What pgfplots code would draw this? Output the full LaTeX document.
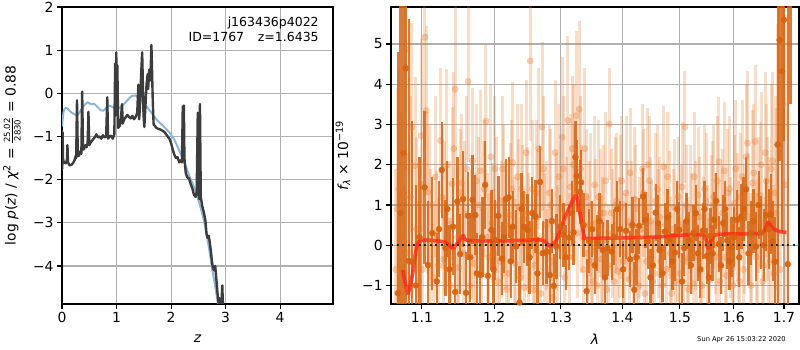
\documentclass[border=0pt]{standalone}
\usepackage{pgfplots}
\pgfplotsset{compat=1.18}
\usepackage{pgfplotstable}
\usepackage{fontspec}
\setmainfont{DejaVu Sans}
\definecolor{gridc}{RGB}{176,176,176}
\definecolor{pzc}{RGB}{60,60,60}
\definecolor{bluec}{RGB}{140,182,215}
\definecolor{lor}{RGB}{228,118,40}
\definecolor{dor}{RGB}{214,100,18}
\definecolor{redc}{RGB}{255,40,20}

\pgfplotstableread{
x y e
1.066 -0.6 2.5
1.070 1.4 3.0
1.074 0.5 2.8
1.079 4.86 3.0
1.083 -0.2 2.5
1.087 2.93 2.6
1.091 1.98 2.2
1.095 -0.9 2.0
1.099 2.72 2.4
1.104 5.17 2.8
1.108 1.32 2.0
1.112 0.1 1.8
1.116 -0.8 1.9
1.120 0.25 1.6
1.125 2.6 1.8
1.129 -0.35 1.6
1.133 1.98 2.4
1.137 0.6 1.5
1.141 1.53 1.9
1.145 3.88 2.2
1.150 -0.55 1.6
1.154 1.55 1.7
1.158 0.78 1.8
1.163 4.07 2.0
1.167 0.3 1.6
1.171 -0.45 1.5
1.175 1.6 1.9
1.180 1.85 2.0
1.184 0.9 1.7
1.188 3.08 1.9
1.192 -0.3 1.6
1.197 0.55 1.5
1.201 1.9 1.8
1.205 -0.9 1.6
1.210 0.4 1.7
1.214 1.1 1.9
1.218 -1.1 1.5
1.223 0.75 1.8
1.227 2.05 2.0
1.231 -0.45 1.6
1.236 0.95 1.7
1.240 1.4 2.1
1.244 -1.05 1.5
1.249 0.65 1.8
1.253 4.58 2.0
1.258 -1.1 1.7
1.262 1.3 1.8
1.266 2.4 2.0
1.271 2.94 2.1
1.275 0.2 1.6
1.280 -0.6 1.5
1.284 1.0 1.9
1.288 -1.3 1.6
1.293 0.6 1.7
1.297 1.7 1.8
1.302 2.68 2.0
1.306 -0.8 1.6
1.311 3.1 2.1
1.315 1.45 1.8
1.320 2.0 2.0
1.324 3.22 2.1
1.329 3.38 2.2
1.333 0.9 1.6
1.338 2.4 2.0
1.342 -0.2 1.5
1.347 1.0 1.8
1.351 -0.9 1.5
1.356 0.55 1.6
1.360 1.2 1.9
1.365 -0.35 1.6
1.369 0.8 1.7
1.374 -1.1 1.5
1.378 3.01 1.4
1.383 0.3 1.6
1.388 1.0 1.7
1.392 -0.65 1.5
1.397 0.95 1.8
1.401 -0.4 1.5
1.406 1.3 1.9
1.411 -0.85 1.4
1.415 0.5 1.6
1.420 1.15 1.8
1.424 -0.3 1.5
1.429 0.2 1.5
1.434 1.9 1.6
1.438 -1.2 1.5
1.443 2.0 1.4
1.448 0.6 1.6
1.452 -0.9 1.5
1.457 1.1 1.7
1.462 0.3 1.6
1.466 -0.4 1.4
1.471 1.95 1.5
1.476 -0.6 1.5
1.481 0.75 1.6
1.485 -1.2 1.4
1.490 0.95 1.7
1.495 0.1 1.5
1.500 -0.7 1.4
1.504 1.45 1.6
1.509 2.94 1.4
1.514 -0.3 1.5
1.519 0.9 1.6
1.524 -0.95 1.5
1.528 0.5 1.6
1.533 1.25 1.7
1.538 -0.6 1.5
1.543 0.2 1.5
1.548 1.1 1.7
1.553 -0.85 1.5
1.558 0.65 1.6
1.562 1.2 1.8
1.567 -0.3 1.5
1.572 2.08 1.6
1.577 0.4 1.6
1.582 1.85 1.7
1.587 -0.75 1.5
1.592 1.4 1.8
1.597 -0.45 1.5
1.602 1.05 1.7
1.607 0.7 1.6
1.612 -0.9 1.5
1.617 1.7 1.9
1.622 0.4 1.6
1.627 2.54 1.8
1.632 -0.2 1.5
1.637 1.55 1.8
1.642 2.58 1.9
1.647 0.05 1.6
1.652 1.25 1.8
1.657 -0.9 1.6
1.662 2.3 2.0
1.667 0.9 1.8
1.672 -0.4 1.7
1.677 2.1 2.2
1.682 1.3 2.4
1.687 2.5 3.0
1.692 -0.6 3.0
1.697 3.5 3.5
1.702 1.5 4.0
}\lighttab

\pgfplotstableread{
x y e
1.068 0.9 3.0
1.077 -1.1 2.6
1.085 1.2 2.5
1.093 0.4 2.3
1.101 -0.6 2.2
1.106 3.35 2.1
1.110 1.0 2.0
1.118 1.7 2.0
1.122 -0.5 1.7
1.127 1.2 1.8
1.131 0.7 1.9
1.139 -1.0 1.6
1.143 2.4 1.9
1.148 0.2 1.7
1.152 1.3 1.6
1.156 -0.2 1.7
1.161 1.9 1.8
1.165 -1.0 1.6
1.169 2.1 1.8
1.173 0.1 1.7
1.178 1.0 1.7
1.182 -0.7 1.6
1.186 1.4 1.7
1.190 0.2 1.6
1.195 2.2 1.8
1.199 -0.2 1.6
1.203 1.0 1.7
1.208 -0.4 1.6
1.212 1.9 1.8
1.216 0.5 1.6
1.221 -0.7 1.6
1.225 1.4 1.7
1.229 0.1 1.6
1.234 1.7 1.8
1.238 -0.8 1.5
1.242 0.8 1.7
1.247 2.3 1.8
1.251 0.2 1.6
1.256 1.4 1.7
1.260 -0.5 1.6
1.264 0.7 1.7
1.269 -1.2 1.5
1.273 1.9 1.8
1.278 0.5 1.6
1.282 1.3 1.7
1.286 -0.4 1.6
1.291 2.3 1.8
1.295 -0.1 1.6
1.300 0.9 1.7
1.304 1.9 1.8
1.309 0.6 1.6
1.313 -0.3 1.6
1.318 2.4 1.8
1.322 1.3 1.7
1.327 0.3 1.6
1.331 1.9 1.8
1.336 -0.6 1.5
1.340 1.2 1.7
1.345 0.5 1.6
1.349 -0.4 1.5
1.354 1.5 1.7
1.358 -1.0 1.5
1.363 0.8 1.6
1.367 0.1 1.6
1.372 1.6 1.7
1.376 -0.5 1.5
1.381 0.8 1.6
1.386 -0.9 1.5
1.390 1.1 1.7
1.395 0.2 1.5
1.399 1.6 1.6
1.404 -0.2 1.5
1.409 0.6 1.5
1.413 1.8 1.6
1.418 -0.7 1.5
1.422 0.9 1.6
1.427 -1.0 1.4
1.432 0.4 1.5
1.436 1.3 1.6
1.441 -0.4 1.4
1.446 1.6 1.6
1.450 0.1 1.5
1.455 -0.7 1.4
1.460 1.4 1.6
1.464 0.7 1.5
1.469 -1.0 1.4
1.474 0.5 1.5
1.478 1.7 1.6
1.483 -0.2 1.4
1.488 0.4 1.5
1.492 -0.9 1.4
1.497 1.2 1.5
1.502 0.5 1.5
1.507 -0.4 1.4
1.511 1.0 1.5
1.516 -1.1 1.4
1.521 0.3 1.5
1.526 1.7 1.6
1.531 -0.3 1.4
1.535 0.7 1.5
1.540 -1.0 1.4
1.545 1.4 1.6
1.550 0.0 1.5
1.555 -0.6 1.4
1.560 1.0 1.6
1.565 0.3 1.5
1.569 1.6 1.6
1.574 -0.9 1.5
1.579 0.8 1.6
1.584 -0.3 1.5
1.589 1.3 1.6
1.594 0.2 1.5
1.599 -1.0 1.5
1.604 1.9 1.7
1.609 0.1 1.5
1.614 1.2 1.6
1.619 -0.6 1.5
1.624 2.2 1.8
1.629 0.7 1.6
1.634 -1.0 1.5
1.639 1.8 1.7
1.644 -0.3 1.6
1.649 1.0 1.7
1.654 2.0 1.8
1.659 -0.5 1.7
1.664 1.6 1.9
1.669 0.3 1.9
1.674 1.9 2.1
1.679 -0.7 2.2
1.684 0.8 2.6
}\lighttabb

\pgfplotstableread{
x y e
1.0687 -1.19 6
1.0720 0.8 7
1.0760 2.29 6
1.0790 4.40 8
1.0830 -0.39 6
1.0870 -0.41 3.5
1.0920 -1.0 2.5
1.0970 0.2 2.0
1.1036 1.44 1.9
1.1080 -0.49 1.6
1.1140 0.3 1.4
1.1200 -0.9 1.2
1.1230 0.4 1.2
1.1267 1.87 1.2
1.1317 -0.07 1.2
1.1340 0.9 1.2
1.1370 -0.6 1.1
1.1420 0.46 1.2
1.1450 -1.16 1.1
1.1480 1.09 1.1
1.1520 -0.22 1.0
1.1560 1.15 1.2
1.1600 -1.18 1.0
1.1630 0.73 1.1
1.1660 -0.3 1.1
1.1690 1.13 1.1
1.1730 0.75 1.0
1.1750 -0.70 1.0
1.1800 -0.74 1.0
1.1830 0.2 1.0
1.1870 1.50 1.1
1.1910 -0.76 0.9
1.1960 0.38 1.0
1.1990 -0.6 1.0
1.2010 0.13 1.0
1.2060 0.73 1.0
1.2110 -0.33 0.9
1.2140 0.2 0.9
1.2170 1.15 1.0
1.2210 1.19 1.0
1.2240 -0.4 0.9
1.2270 0.46 0.9
1.2320 -0.03 0.9
1.2370 -1.42 0.9
1.2400 0.9 0.9
1.2440 0.46 0.9
1.2490 0.38 0.9
1.2520 -0.3 0.9
1.2560 0.80 0.9
1.2610 0.71 0.9
1.2640 -0.7 0.9
1.2680 1.57 0.9
1.2720 -0.20 0.8
1.2780 -0.16 0.8
1.2830 -0.74 0.8
1.2860 0.6 0.8
1.2890 -1.01 0.8
1.2930 -0.03 0.8
1.2990 0.46 0.8
1.3040 0.26 0.8
1.3080 -0.3 0.8
1.3130 0.19 0.8
1.3170 0.8 0.8
1.3200 0.32 0.8
1.3230 2.19 0.9
1.3250 1.72 0.9
1.3300 1.33 0.8
1.3320 1.56 0.8
1.3360 0.5 0.8
1.3410 -1.14 0.8
1.3450 0.1 0.8
1.3500 0.40 0.7
1.3540 -0.5 0.7
1.3580 0.05 0.7
1.3620 0.6 0.7
1.3670 -0.12 0.7
1.3710 -0.8 0.7
1.3750 -0.07 0.7
1.3820 -0.16 0.7
1.3860 0.2 0.7
1.3910 0.90 0.7
1.3960 0.40 0.7
1.4010 -0.6 0.7
1.4060 0.36 0.7
1.4130 -0.35 0.7
1.4170 0.5 0.7
1.4200 -1.11 0.7
1.4240 -0.3 0.7
1.4280 0.48 0.7
1.4350 1.21 0.7
1.4390 0.63 0.7
1.4430 0.1 0.7
1.4480 -0.80 0.7
1.4520 -0.5 0.7
1.4570 0.81 0.7
1.4610 0.55 0.7
1.4640 -0.12 0.7
1.4690 -0.7 0.7
1.4730 0.34 0.7
1.4780 0.7 0.7
1.4820 0.13 0.7
1.4870 -0.4 0.7
1.4910 -0.18 0.7
1.4950 0.9 0.7
1.4990 0.38 0.7
1.5040 -0.9 0.7
1.5080 -0.07 0.7
1.5120 0.6 0.7
1.5160 0.12 0.7
1.5200 -0.5 0.7
1.5250 0.30 0.7
1.5290 0.8 0.7
1.5330 -0.20 0.7
1.5370 -0.6 0.7
1.5420 0.36 0.7
1.5450 0.9 0.7
1.5490 -0.27 0.7
1.5530 -0.8 0.7
1.5560 0.23 0.7
1.5600 -0.2 0.7
1.5630 0.63 0.7
1.5670 1.1 0.7
1.5720 0.03 0.7
1.5760 -0.5 0.7
1.5800 0.55 0.7
1.5840 0.9 0.7
1.5880 0.12 0.7
1.5920 -0.4 0.7
1.5960 -0.05 0.75
1.6010 0.2 0.75
1.6070 0.63 0.75
1.6110 -0.3 0.75
1.6150 0.71 0.8
1.6190 0.9 0.8
1.6240 1.39 0.8
1.6290 -0.2 0.8
1.6340 0.30 0.8
1.6390 0.6 0.8
1.6440 -0.03 0.85
1.6490 1.0 0.85
1.6540 0.32 0.9
1.6590 0.0 0.9
1.6640 0.75 0.9
1.6690 0.4 1.0
1.6730 0.77 1.0
1.6770 0.1 1.0
1.6810 -0.41 1.1
1.6870 2.5 4.0
1.6910 5.10 3.0
1.6960 4.32 4.0
1.7000 5.6 3.0
1.7077 -0.47 6.5
1.7130 6.0 2.5
}\darktab

\pgfplotsset{
  myax/.style={
    scale only axis,
    anchor=south west,
    height=297pt,
    grid=major,
    major grid style={color=gridc, line width=1.1pt},
    axis line style={line width=1.1pt},
    tick align=outside,
    tick pos=left,
    major tick length=4.9pt,
    every tick/.style={black, line width=1.1pt},
    ticklabel style={font=\fontsize{13.9}{16}\selectfont},
    /pgf/number format/assume math mode=true,
    every axis x label/.style={at={(axis description cs:0.5,-0.118)}, anchor=center, font=\fontsize{13.9}{16}\selectfont},
  },
  lightpts/.style={only marks, lor, mark=*, mark size=3.2pt, mark options={fill=lor, draw=lor, opacity=0.3},
  error bars/.cd, y dir=both, y explicit, error mark=none,
  error bar style={line width=3pt, color=lor, opacity=0.25}},
}

\begin{document}
\begin{tikzpicture}
\useasboundingbox (0,0) rectangle (800pt,350pt);

% ---------- left panel ----------
\begin{axis}[myax,
  at={(62pt,46pt)}, width=271pt,
  xmin=0, xmax=4.97, ymin=-4.88, ymax=2,
  xtick={0,1,2,3,4},
  ytick={-4,-3,-2,-1,0,1,2},
  yticklabels={−4,−3,−2,−1,0,1,2},
  xlabel={\itshape z},
  ylabel={log {\itshape p}({\itshape z}) / {\itshape χ}\textsuperscript{2} = $\frac{\mbox{\fontsize{8.5}{9}\selectfont 25.02}}{\mbox{\fontsize{8.5}{9}\selectfont 2830}}$ = 0.88},
  every axis y label/.style={at={(axis description cs:-0.1845,0.5)}, rotate=90, anchor=center, font=\fontsize{13.9}{16}\selectfont},
]
\addplot[bluec, line width=2pt, smooth] coordinates {
(0.0,-0.77)(0.03,-0.42)(0.07,-0.34)(0.1,-0.35)(0.15,-0.42)(0.22,-0.48)(0.29,-0.5)(0.35,-0.38)(0.42,-0.26)(0.47,-0.21)(0.53,-0.25)(0.58,-0.24)(0.64,-0.3)(0.7,-0.38)(0.76,-0.4)(0.82,-0.32)(0.88,-0.29)(0.94,-0.33)(1.0,-0.37)(1.06,-0.33)(1.12,-0.27)(1.2,-0.16)(1.28,-0.06)(1.34,-0.05)(1.4,-0.1)(1.48,-0.2)(1.55,-0.3)(1.64,-0.45)(1.73,-0.6)(1.85,-0.75)(1.95,-0.88)(2.05,-1.05)(2.16,-1.35)(2.25,-1.62)(2.34,-1.93)(2.43,-2.2)(2.52,-2.55)(2.59,-2.88)(2.65,-3.25)(2.71,-3.7)(2.77,-4.18)(2.82,-4.55)(2.86,-4.88)(2.9,-5.2)};
\addplot[pzc, line width=2.4pt, line join=round] coordinates {
(0.00,-0.85)(0.005,-1.75)(0.01,-0.9)(0.02,-1.55)(0.04,-1.6)(0.07,-1.62)(0.09,-1.55)(0.10,-1.2)(0.11,-1.6)(0.14,-1.67)(0.18,-1.65)(0.21,-1.6)(0.23,-1.55)(0.25,-1.45)(0.26,-1.5)(0.275,-0.16)(0.29,-1.45)(0.31,-1.45)(0.33,-1.35)(0.355,-1.4)(0.37,0.04)(0.385,-1.3)(0.40,-1.3)(0.43,-1.2)(0.45,-1.25)(0.47,-1.15)(0.485,-0.43)(0.50,-1.2)(0.52,-1.15)(0.55,-1.1)(0.58,-1.05)(0.61,-1.0)(0.63,-0.95)(0.66,-1.02)(0.69,-1.0)(0.72,-1.05)(0.75,-0.97)(0.78,-1.02)(0.81,-1.0)(0.83,-0.09)(0.845,-1.05)(0.87,-1.0)(0.90,-0.98)(0.93,-1.05)(0.96,-0.95)(0.975,0.69)(0.985,-0.5)(0.995,0.95)(1.005,-0.5)(1.015,0.65)(1.03,-0.8)(1.06,-0.75)(1.08,-0.6)(1.10,-0.25)(1.115,-0.7)(1.14,-0.6)(1.17,-0.55)(1.20,-0.5)(1.23,-0.55)(1.26,-0.58)(1.29,-0.52)(1.32,-0.6)(1.35,-0.55)(1.38,-0.45)(1.40,0.2)(1.415,-0.6)(1.43,-0.3)(1.45,0.4)(1.47,0.95)(1.48,0.4)(1.495,-0.5)(1.51,-0.78)(1.53,-0.3)(1.55,0.2)(1.57,0.44)(1.58,0.1)(1.60,0.55)(1.62,0.3)(1.64,1.12)(1.65,0.6)(1.665,-0.2)(1.68,-0.72)(1.70,-0.75)(1.73,-0.8)(1.76,-0.82)(1.79,-0.83)(1.82,-0.85)(1.85,-0.87)(1.88,-0.9)(1.91,-0.95)(1.94,-1.0)(1.97,-1.05)(2.00,-1.15)(2.03,-1.3)(2.06,-1.42)(2.09,-1.5)(2.12,-1.48)(2.15,-1.6)(2.18,-1.55)(2.20,-1.6)(2.215,-0.3)(2.225,-1.2)(2.235,-0.28)(2.245,-1.5)(2.27,-1.85)(2.30,-1.95)(2.33,-1.97)(2.36,-2.1)(2.39,-2.2)(2.42,-2.35)(2.45,-2.4)(2.47,-2.3)(2.49,-0.45)(2.50,-2.3)(2.52,-2.45)(2.53,-0.25)(2.545,-2.4)(2.57,-2.6)(2.60,-2.75)(2.63,-2.95)(2.65,-3.25)(2.67,-3.35)(2.69,-3.3)(2.71,-3.45)(2.73,-3.65)(2.75,-3.9)(2.77,-4.05)(2.79,-4.1)(2.81,-4.0)(2.83,-4.3)(2.85,-4.6)(2.87,-4.85)(2.89,-4.75)(2.91,-5.2)(2.94,-4.45)(2.96,-5.3)(3.0,-6)};
\node[anchor=north east, align=right, font=\fontsize{12.5}{15.5}\selectfont, inner sep=0pt] at (rel axis cs:0.948,0.967) {j163436p4022\\ID=1767\hspace{1.1em}z=1.6435};
\end{axis}

% ---------- right panel ----------
\begin{axis}[myax,
  at={(391pt,46pt)}, width=408pt,
  xmode=log,
  xmin=1.06, xmax=1.731, ymin=-1.46, ymax=5.92,
  xtick={1.1,1.2,1.3,1.4,1.5,1.6,1.7},
  xticklabels={1.1,1.2,1.3,1.4,1.5,1.6,1.7},
  xminorticks=false,
  ytick={-1,0,1,2,3,4,5},
  yticklabels={−1,0,1,2,3,4,5},
  xlabel={\itshape λ},
  ylabel={{\itshape f}\textsubscript{\itshape λ} × 10\textsuperscript{−19}},
  every axis y label/.style={at={(axis description cs:-0.1176,0.5)}, rotate=90, anchor=center, font=\fontsize{13.9}{16}\selectfont},
]
\addplot[lightpts] table[x=x, y=y, y error=e] {\lighttab};
\addplot[lightpts] table[x=x, y=y, y error=e] {\lighttabb};
\addplot[only marks, dor, mark=*, mark size=3pt, mark options={fill=dor, draw=dor, opacity=0.95},
  error bars/.cd, y dir=both, y explicit, error mark=none,
  error bar style={line width=2.3pt, color=dor, opacity=0.85}]
  table[x=x, y=y, y error=e] {\darktab};
\addplot[redc, opacity=0.8, line width=3.6pt, smooth, tension=0.4, line join=round] coordinates {
(1.075,-0.61)(1.0816,-1.19)(1.088,-0.7)(1.096,0.09)(1.131,0.08)(1.142,-0.07)(1.156,0.24)(1.162,0.12)(1.22,0.11)(1.27,0.13)(1.283,-0.02)(1.293,0.13)(1.304,0.59)(1.314,0.96)(1.324,1.25)(1.330,0.8)(1.337,0.22)(1.342,0.17)(1.45,0.2)(1.540,0.26)(1.552,-0.07)(1.566,0.26)(1.654,0.3)(1.667,0.57)(1.677,0.42)(1.691,0.34)(1.705,0.32)};
\addplot[black!85, line width=2pt, dash pattern=on 2pt off 3.5pt] coordinates {(1.06,0)(1.731,0)};
\end{axis}

\node[anchor=center, font=\fontsize{6.7}{8}\selectfont] at (741.5pt,10.5pt) {Sun Apr 26 15:03:22 2020};
\end{tikzpicture}
\end{document}
